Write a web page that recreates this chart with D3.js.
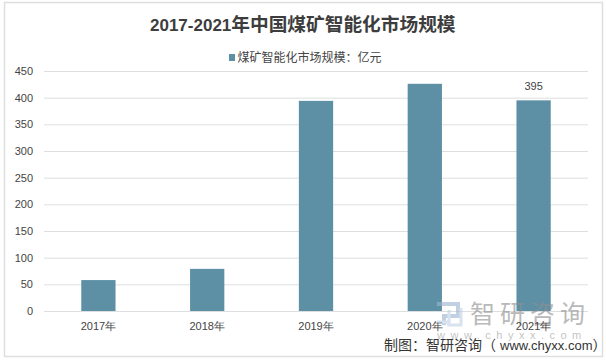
<!DOCTYPE html>
<html>

<head>
    <meta charset="utf-8">
    <style>
        body {
            margin: 0;
            background: #fff;
        }

        svg {
            display: block;
            font-family: 'Liberation Sans', 'Noto Sans CJK SC', sans-serif;
        }

        .axis .domain,
        .axis .tick line {
            display: none;
        }

        .axis .tick text {
            font-size: 11px;
            fill: #444;
        }
    </style>
</head>

<body>
    <svg width="606" height="361"></svg>

    <script src="https://d3js.org/d3.v7.min.js"></script>
    <script>
        const categories = ['2017年', '2018年', '2019年', '2020年', '2021年'];
        const values = [58, 79, 394, 426, 395];
        const yTicks = [0, 50, 100, 150, 200, 250, 300, 350, 400, 450];
        const barLabels = ['', '', '', '', '395'];
        const seriesName = '煤矿智能化市场规模：亿元';

        const margin = { top: 71, right: 18, bottom: 50, left: 44 };
        const width = 606;
        const height = 361;
        const svg = d3.select('svg');

        // outer frame
        svg.append('rect')
            .attr('x', 4.5)
            .attr('y', 2.5)
            .attr('width', 598)
            .attr('height', 354)
            .attr('fill', '#fff')
            .attr('stroke', '#dfdfdf')
            .attr('stroke-width', 1.5);

        const x = d3.scaleBand()
            .domain(categories)
            .range([margin.left, width - margin.right])
            .paddingInner(0.685)
            .paddingOuter(0.3425);

        const y = d3.scaleLinear()
            .domain([0, 450])
            .range([height - margin.bottom, margin.top]);

        // gridlines
        svg.append('g')
            .selectAll('line')
            .data(yTicks)
            .join('line')
            .attr('x1', margin.left)
            .attr('x2', width - margin.right)
            .attr('y1', d => y(d) + 0.5)
            .attr('y2', d => y(d) + 0.5)
            .attr('stroke', '#dcdfe0')
            .attr('stroke-width', 1);

        svg.append('g')
            .attr('class', 'y axis')
            .attr('transform', `translate(${margin.left},0)`)
            .call(d3.axisLeft(y).tickValues(yTicks).tickSize(0).tickPadding(11));

        svg.append('g')
            .selectAll('rect')
            .data(values)
            .join('rect')
            .attr('x', (d, i) => x(categories[i]))
            .attr('y', d => y(d))
            .attr('width', x.bandwidth())
            .attr('height', d => y(0) - y(d))
            .attr('fill', '#5e90a5');

        svg.append('g')
            .selectAll('text')
            .data(barLabels)
            .join('text')
            .attr('x', (d, i) => x(categories[i]) + x.bandwidth() / 2)
            .attr('y', (d, i) => y(values[i]) - 10)
            .attr('text-anchor', 'middle')
            .attr('font-size', 11)
            .attr('fill', '#444')
            .text(d => d);

        // title, latin and chinese parts have different sizes in the original
        const title = svg.append('text')
            .attr('x', 150)
            .attr('y', 31)
            .attr('font-weight', 700)
            .attr('fill', '#3d3d3d');
        title.append('tspan').attr('font-size', 17).text('2017-2021');
        title.append('tspan').attr('font-size', 18.7).text('年中国煤矿智能化市场规模');

        // legend
        svg.append('rect')
            .attr('x', 229)
            .attr('y', 54)
            .attr('width', 6)
            .attr('height', 7)
            .attr('fill', '#5e90a5');

        svg.append('text')
            .attr('x', 237.5)
            .attr('y', 62)
            .attr('font-size', 12)
            .attr('fill', '#444')
            .text(seriesName);

        // watermark
        const mark = svg.append('g').attr('opacity', 0.62);

        mark.append('path')
            .attr('d', 'M437 304H458V316H444V325')
            .attr('fill', 'none')
            .attr('stroke', '#9db4d2')
            .attr('stroke-width', 4);
        mark.append('path')
            .attr('d', 'M449 310V322H437M461 308V325H447')
            .attr('fill', 'none')
            .attr('stroke', '#c3d2e6')
            .attr('stroke-width', 3);

        mark.append('text')
            .attr('x', 470)
            .attr('y', 323)
            .attr('font-size', 25)
            .attr('letter-spacing', 5)
            .attr('fill', '#8f8f8f')
            .text('智研咨询');

        mark.append('text')
            .attr('x', 437)
            .attr('y', 339)
            .attr('font-size', 11)
            .attr('letter-spacing', 5.5)
            .attr('fill', '#a0a0a0')
            .text('www.chyxx.com');

        // x labels sit on top of the watermark
        svg.append('g')
            .attr('class', 'x axis')
            .attr('transform', `translate(0,${height - margin.bottom})`)
            .call(d3.axisBottom(x).tickSize(0).tickPadding(11));

        // source note
        const note = svg.append('text')
            .attr('x', 384)
            .attr('y', 350)
            .attr('fill', '#333');
        note.append('tspan').attr('font-size', 14).text('制图：智研咨询（');
        note.append('tspan').attr('font-size', 13).attr('dx', 4).text('www.chyxx.com');
        note.append('tspan').attr('font-size', 14).text('）');
    </script>
</body>

</html>
